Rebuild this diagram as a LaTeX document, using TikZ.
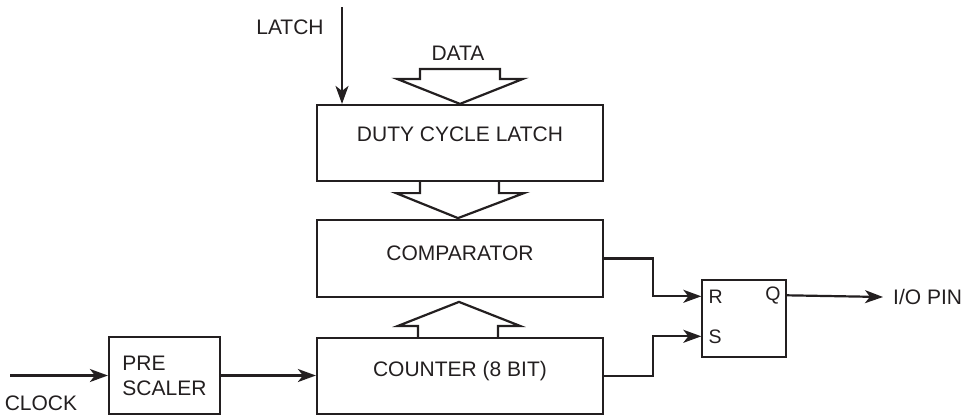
\documentclass[tikz,border=0pt]{standalone}
\usepackage{fontspec}
\setmainfont{Liberation Sans}
\usetikzlibrary{arrows.meta,calc}
\definecolor{ink}{HTML}{231F20}
\tikzset{
  blk/.style={draw=ink, line width=2.2pt, minimum width=286pt, inner sep=0pt},
  lbl/.style={text=ink, font=\fontsize{21}{24}\selectfont, inner sep=0pt},
  wire/.style={draw=ink, line width=2.2pt, -{Stealth[length=18pt,width=13pt,inset=5pt]}},
  hollow/.style={draw=ink, line width=2.2pt, line join=miter},
}
\begin{document}
\begin{tikzpicture}[x=1pt,y=-1pt]
\useasboundingbox (0,0) rectangle (969,416);
% main blocks
\node[blk, lbl, minimum height=76pt] (dcl) at (460,143) {\raisebox{17pt}{DUTY CYCLE LATCH}};
\node[blk, lbl, minimum height=77pt] (cmp) at (460,258.5) {\raisebox{11pt}{COMPARATOR}};
\node[blk, lbl, minimum height=76pt] (cnt) at (460,376) {\raisebox{14pt}{COUNTER (8 BIT)}};
\node[draw=ink, line width=2.2pt, lbl, minimum width=111pt, minimum height=77pt, align=left] (pre) at (164.5,375.5) {PRE\\[1pt]SCALER};
\node[draw=ink, line width=1.4pt, minimum width=84pt, minimum height=77pt, inner sep=0pt] (ff) at (744,318.5) {};
% flip-flop pins
\coordinate (ffR) at ($(ff.north west)+(0,17)$);
\coordinate (ffS) at ($(ff.north west)+(0,57)$);
\coordinate (ffQ) at ($(ff.north east)+(0,16)$);
\node[lbl, font=\fontsize{19.5}{22}\selectfont, anchor=west] (rlab) at ($(ffR)+(7,0)$) {R};
\node[lbl, font=\fontsize{19.5}{22}\selectfont, anchor=west] (slab) at ($(ffS)+(7,0)$) {S};
\node[lbl, font=\fontsize{19.5}{22}\selectfont, anchor=east] (qlab) at ($(ffQ)+(-6,0)$) {Q};
% labels
\node[lbl] (latchlab) at (290,27) {LATCH};
\node[lbl] (datalab) at (458,53) {DATA};
\node[lbl] (clocklab) at (41,403) {CLOCK};
\node[lbl, anchor=west] (iolab) at (893,297) {I/O PIN};
% latch input
\coordinate (lt) at (342,7);
\draw[wire] (lt) -- (lt |- dcl.north);
% data hollow arrow
\draw[hollow] ($(dcl.north)+(-40,-35)$) -- ++(0,10) -- ++(-23,0) -- (dcl.north) -- ++(63,-25) -- ++(-23,0) -- ++(0,-10) -- cycle;
% latch -> comparator hollow arrow
\draw[hollow] ($(dcl.south)+(-40,0)$) -- ++(0,11) -- ++(-24,0) -- ($(dcl.south)+(-2,36)$) -- ++(66,-25) -- ++(-25,0) -- ++(0,-11);
% counter -> comparator hollow arrow
\draw[hollow] ($(cnt.north)+(-42,0)$) -- ++(0,-11) -- ++(-20,0) -- ($(cnt.north)+(-1,-35)$) -- ++(61,24) -- ++(-22,0) -- ++(0,11);
% clock path
\coordinate (clk) at (10,375.5);
\draw[wire] (clk) -- (pre.west);
\draw[wire] (pre.east) -- (pre.east -| cnt.west);
% to flip-flop
\draw[wire] (cmp.east) -- ++(49,0) |- (ffR);
\draw[wire] (cnt.east) -- ++(49,0) |- (ffS);
\coordinate (io) at (883,297);
\draw[wire] (ffQ) -- (io);
\end{tikzpicture}
\end{document}
